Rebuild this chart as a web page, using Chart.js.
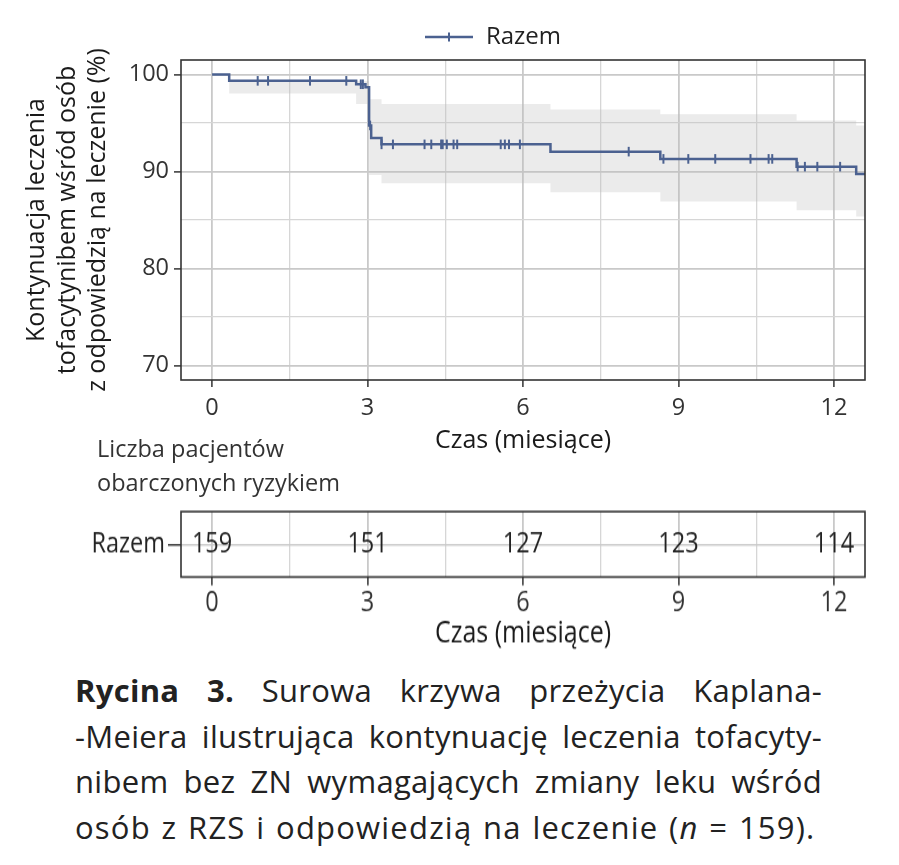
<!DOCTYPE html>
<html>
<head>
<meta charset="utf-8">
<script src="https://cdn.jsdelivr.net/npm/chart.js@4.4.1/dist/chart.umd.min.js"></script>
<style>
html,body{margin:0;padding:0;background:#fff;}
body{width:899px;height:865px;position:relative;overflow:hidden;font-family:'Open Sans',sans-serif;}
#mainWrap{position:absolute;left:0;top:0;width:899px;height:460px;}
#riskWrap{position:absolute;left:0;top:490px;width:899px;height:140px;transform:scaleY(1.2);transform-origin:0 0;}
#riskNote{position:absolute;left:97px;top:431px;font-size:23.5px;line-height:34px;color:#333;white-space:nowrap;}
#caption{position:absolute;left:75px;top:668px;width:747px;font-size:31px;line-height:45.5px;color:#222;letter-spacing:0.3px;}
#caption div{text-align:justify;text-align-last:justify;white-space:nowrap;}
#caption div.last{text-align-last:left;letter-spacing:1.2px;word-spacing:1.5px;}
</style>
</head>
<body>
<div id="mainWrap"><canvas id="c1"></canvas></div>
<div id="riskNote">Liczba pacjentów<br>obarczonych ryzykiem</div>
<div id="riskWrap"><canvas id="c2"></canvas></div>
<div id="caption">
<div><b>Rycina 3.</b> Surowa krzywa przeżycia Kaplana-</div>
<div>-Meiera ilustrująca kontynuację leczenia tofacyty-</div>
<div>nibem bez ZN wymagających zmiany leku wśród</div>
<div class="last">osób z RZS i odpowiedzią na leczenie (<i>n</i> = 159).</div>
</div>
<script>
// ---- data ----
const seriesLabel = 'Razem';
const times    = [0, 0.33, 2.78, 2.96, 3.03, 3.07, 3.27, 6.53, 8.65, 11.28, 12.43, 12.6];
const survival = [100, 99.35, 99.0, 98.7, 94.75, 93.45, 92.8, 92.05, 91.3, 90.5, 89.75, 89.75];
const ciUpper  = [100, 99.35, 99.3, 99.3, 97.45, 97.45, 96.95, 96.4, 95.9, 95.25, 94.75, 94.75];
const ciLower  = [100, 98.05, 96.95, 96.95, 89.65, 89.65, 88.8, 87.85, 86.9, 86.0, 85.35, 85.35];
const censorTimes = [0.88, 1.08, 1.89, 2.59, 2.87, 2.91, 3.05, 3.27, 3.49, 4.10, 4.23, 4.42, 4.45, 4.53, 4.66, 4.73, 5.57, 5.65, 5.73, 5.94, 8.04, 8.71, 9.19, 9.71, 10.39, 10.74, 10.81, 11.30, 11.44, 11.68, 12.12];
const censorSurvival = [99.35, 99.35, 99.35, 99.35, 99.0, 99.0, 94.75, 92.8, 92.8, 92.8, 92.8, 92.8, 92.8, 92.8, 92.8, 92.8, 92.8, 92.8, 92.8, 92.8, 92.05, 91.3, 91.3, 91.3, 91.3, 91.3, 91.3, 90.5, 90.5, 90.5, 90.5];
const riskTimes  = [0, 3, 6, 9, 12];
const riskCounts = [159, 151, 127, 123, 114];
const xMajorTicks = [0, 3, 6, 9, 12];
const xMinorTicks = [1.5, 4.5, 7.5, 10.5];
const yMajorTicks = [70, 80, 90, 100];
const yMinorTicks = [75, 85, 95];
const xTitle = 'Czas (miesiące)';
const yTitle = ['Kontynuacja leczenia', 'tofacytynibem wśród osób', 'z odpowiedzią na leczenie (%)'];

// ---- styling helpers ----
const LINE = '#4b6190';
Chart.defaults.font.family = "'Open Sans', sans-serif";
const pts = (xs, ys) => xs.map((x, i) => ({x: x, y: ys[i]}));
const isIn = (arr, v) => arr.some(a => Math.abs(a - v) < 1e-9);
const allTicks = (a, b) => a.concat(b).sort((p, q) => p - q).map(v => ({value: v}));
function gridOpts(major) {
  return {
    color: c => isIn(major, c.tick.value) ? '#c9c9c9' : '#d6d6d6',
    lineWidth: c => isIn(major, c.tick.value) ? 1.8 : 1.3,
    drawTicks: true,
    tickLength: 7,
    tickColor: c => isIn(major, c.tick.value) ? '#333' : 'rgba(0,0,0,0)',
    tickWidth: 1.5
  };
}
const frame = {
  id: 'frame',
  afterDatasetsDraw(chart) {
    const {ctx, chartArea: a} = chart;
    ctx.save();
    ctx.strokeStyle = '#333';
    ctx.lineWidth = 1.6;
    ctx.strokeRect(a.left, a.top, a.right - a.left, a.bottom - a.top);
    ctx.restore();
  }
};
const legendShift = {
  id: 'legendShift',
  afterLayout(chart) {
    const L = chart.legend;
    if (!L) return;
    L.left += 60; L.right += 60;
    L.top -= 1; L.bottom -= 1;
  }
};
const legendIcon = document.createElement('canvas');
legendIcon.width = 48; legendIcon.height = 12;
(function () {
  const g = legendIcon.getContext('2d');
  g.strokeStyle = LINE;
  g.lineWidth = 2.5;
  g.beginPath(); g.moveTo(0, 6); g.lineTo(48, 6); g.stroke();
  g.lineWidth = 2;
  g.beginPath(); g.moveTo(24, 1.5); g.lineTo(24, 10.5); g.stroke();
})();

// ---- main KM chart ----
new Chart(document.getElementById('c1'), {
  type: 'line',
  data: {
    datasets: [
      { label: 'censor', data: pts(censorTimes, censorSurvival), showLine: false,
        pointStyle: 'line', pointRotation: 90, pointRadius: 4.8, pointHoverRadius: 4.8,
        pointBorderColor: LINE, pointBorderWidth: 2, borderColor: LINE, backgroundColor: LINE },
      { label: seriesLabel, data: pts(times, survival), stepped: 'before', borderColor: LINE,
        borderWidth: 2.5, pointRadius: 0, fill: false },
      { label: 'ciUpper', data: pts(times, ciUpper), stepped: 'before', borderWidth: 0,
        borderColor: 'rgba(0,0,0,0)', backgroundColor: 'rgba(190,190,190,0.3)', pointRadius: 0, fill: '+1' },
      { label: 'ciLower', data: pts(times, ciLower), stepped: 'before', borderWidth: 0,
        borderColor: 'rgba(0,0,0,0)', pointRadius: 0, fill: false }
    ]
  },
  options: {
    responsive: true, maintainAspectRatio: false, animation: false,
    layout: { padding: { top: 18, right: 34, left: 0, bottom: 0 } },
    plugins: {
      tooltip: { enabled: false },
      legend: {
        position: 'top',
        labels: {
          usePointStyle: true, pointStyleWidth: 50, padding: 8,
          font: { size: 24 }, color: '#222',
          generateLabels: () => [{ text: seriesLabel, pointStyle: legendIcon, fillStyle: LINE,
            strokeStyle: LINE, lineWidth: 0, hidden: false, datasetIndex: 1, fontColor: '#222' }]
        }
      }
    },
    scales: {
      x: {
        type: 'linear', min: -0.6, max: 12.6,
        afterBuildTicks: s => { s.ticks = allTicks(xMajorTicks, xMinorTicks); },
        ticks: { callback: v => isIn(xMajorTicks, v) ? String(v) : '', font: { size: 23.5 },
          color: '#333', padding: 7, autoSkip: false, maxRotation: 0 },
        grid: gridOpts(xMajorTicks), border: { display: false },
        title: { display: true, text: xTitle, font: { size: 25 }, color: '#1a1a1a', padding: { top: 0, bottom: 4 } },
        afterFit: s => { s.height = 80; }
      },
      y: {
        type: 'linear', min: 68.5, max: 101.5,
        afterBuildTicks: s => { s.ticks = allTicks(yMajorTicks, yMinorTicks); },
        ticks: { callback: v => isIn(yMajorTicks, v) ? String(v) : '', font: { size: 23.5 },
          color: '#333', padding: 5, autoSkip: false },
        grid: gridOpts(yMajorTicks), border: { display: false },
        title: { display: true, text: yTitle, font: { size: 25, lineHeight: 1.22 }, color: '#1a1a1a',
          padding: { top: 22, bottom: 0 } },
        afterFit: s => { s.width = 181; }
      }
    }
  },
  plugins: [frame, legendShift]
});

// ---- risk table ----
const riskLabels = {
  id: 'riskLabels',
  afterDatasetsDraw(chart) {
    const meta = chart.getDatasetMeta(0);
    const ctx = chart.ctx;
    ctx.save();
    ctx.font = "23.5px 'Open Sans', sans-serif";
    ctx.fillStyle = '#222';
    ctx.textAlign = 'center';
    ctx.textBaseline = 'middle';
    meta.data.forEach((p, i) => ctx.fillText(String(riskCounts[i]), p.x, p.y));
    ctx.restore();
  }
};
new Chart(document.getElementById('c2'), {
  type: 'line',
  data: { datasets: [{ label: seriesLabel, data: riskTimes.map(t => ({x: t, y: 1})), showLine: false, pointRadius: 0 }] },
  options: {
    responsive: true, maintainAspectRatio: false, animation: false,
    layout: { padding: { top: 18, right: 34, left: 0, bottom: 0 } },
    plugins: { legend: { display: false }, tooltip: { enabled: false } },
    scales: {
      x: {
        type: 'linear', min: -0.6, max: 12.6,
        afterBuildTicks: s => { s.ticks = allTicks(xMajorTicks, xMinorTicks); },
        ticks: { callback: v => isIn(xMajorTicks, v) ? String(v) : '', font: { size: 23.5 },
          color: '#333', padding: 1, autoSkip: false, maxRotation: 0 },
        grid: gridOpts(xMajorTicks), border: { display: false },
        title: { display: true, text: xTitle, font: { size: 25 }, color: '#1a1a1a', padding: { top: 0, bottom: 5 } },
        afterFit: s => { s.height = 67.5; }
      },
      y: {
        type: 'linear', min: 0, max: 2,
        afterBuildTicks: s => { s.ticks = [{ value: 1 }]; },
        ticks: { callback: () => seriesLabel, font: { size: 23.5 }, color: '#222', padding: 3 },
        grid: { color: '#c9c9c9', lineWidth: 1.5, drawTicks: true, tickLength: 13, tickColor: '#333', tickWidth: 1.5 },
        border: { display: false },
        afterFit: s => { s.width = 181; }
      }
    }
  },
  plugins: [riskLabels, frame]
});
</script>
</body>
</html>
